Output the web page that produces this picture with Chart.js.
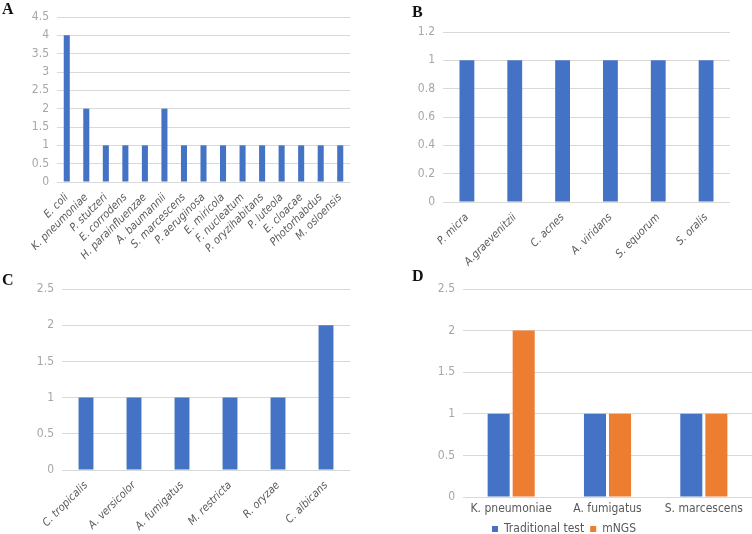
<!DOCTYPE html>
<html>
<head>
<meta charset="utf-8">
<script src="https://cdn.jsdelivr.net/npm/chart.js@4/dist/chart.umd.min.js"></script>
<style>
  html, body { margin: 0; padding: 0; background: #fff; }
  body { width: 752px; height: 534px; position: relative; overflow: hidden; }
  .panel { position: absolute; }
  .tag { position: absolute; font-family: 'Liberation Serif', serif; font-weight: bold; font-size: 16px; color: #111; }
</style>
</head>
<body>

<div class="panel" style="left:0;top:0;width:376px;height:270px;"><canvas id="chartA"></canvas></div>
<div class="panel" style="left:376px;top:0;width:376px;height:270px;"><canvas id="chartB"></canvas></div>
<div class="panel" style="left:0;top:270px;width:376px;height:264px;"><canvas id="chartC"></canvas></div>
<!-- panel D canvas runs past the right edge so the legend centres under the plot -->
<div class="panel" style="left:376px;top:270px;width:450px;height:264px;"><canvas id="chartD"></canvas></div>

<div class="tag" style="left:2px;top:0px;">A</div>
<div class="tag" style="left:412px;top:3px;">B</div>
<div class="tag" style="left:2px;top:271px;">C</div>
<div class="tag" style="left:412px;top:267px;">D</div>

<script>
// Panel A - bacteria
const labelsA = ['E. coli', 'K. pneumoniae', 'P. stutzeri', 'E. corrodens', 'H. parainfluenzae',
    'A. baumannii', 'S. marcescens', 'P. aeruginosa', 'E. miricola', 'F. nucleatum',
    'P. oryzihabitans', 'P. luteola', 'E. cloacae', 'Photorhabdus', 'M. osloensis'];
const valuesA = [4, 2, 1, 1, 1, 2, 1, 1, 1, 1, 1, 1, 1, 1, 1];

// Panel B
const labelsB = ['P. micra', 'A.graevenitzii', 'C. acnes', 'A. viridans', 'S. equorum', 'S. oralis'];
const valuesB = [1, 1, 1, 1, 1, 1];

// Panel C - fungi
const labelsC = ['C. tropicalis', 'A. versicolor', 'A. fumigatus', 'M. restricta', 'R. oryzae', 'C. albicans'];
const valuesC = [1, 1, 1, 1, 1, 2];

// Panel D - traditional vs mNGS
const labelsD = ['K. pneumoniae', 'A. fumigatus', 'S. marcescens'];
const traditionalD = [1, 1, 1];
const mngsD = [2, 1, 1];

const BLUE = '#4472C4';
const ORANGE = '#ED7D31';
const GRID = '#D9D9D9';
const FONT = "'Liberation Sans Narrow', 'DejaVu Sans Condensed', 'Liberation Sans', sans-serif";

Chart.defaults.animation = false;
Chart.defaults.responsive = true;
Chart.defaults.maintainAspectRatio = false;
Chart.defaults.font.family = FONT;

function makeChart(id, labels, datasets, cfg) {
    return new Chart(document.getElementById(id), {
        type: 'bar',
        data: { labels: labels, datasets: datasets },
        options: {
            layout: { padding: cfg.padding },
            plugins: {
                legend: cfg.legend || { display: false },
                tooltip: { enabled: false }
            },
            scales: {
                x: {
                    grid: { display: false, drawTicks: false },
                    border: { display: false },
                    ticks: {
                        color: '#595959',
                        font: { size: cfg.xSize, style: cfg.xStyle || 'normal' },
                        minRotation: cfg.rot,
                        maxRotation: cfg.rot,
                        autoSkip: false,
                        padding: cfg.xPad
                    },
                    afterFit: s => { s.height = cfg.xHeight; }
                },
                y: {
                    min: 0,
                    max: cfg.yMax,
                    grid: { color: GRID, drawTicks: false },
                    border: { display: false },
                    ticks: {
                        stepSize: cfg.step,
                        autoSkip: false,
                        maxTicksLimit: 20,
                        color: '#A6A6A6',
                        font: { size: 12, lineHeight: 1 },
                        padding: 8,
                        callback: v => String(Math.round(v * 10) / 10)
                    },
                    afterFit: s => { s.width = cfg.yWidth; }
                }
            }
        }
    });
}

makeChart('chartA', labelsA, [{
    data: valuesA, backgroundColor: BLUE, barPercentage: 0.5, categoryPercentage: 0.62
}], { padding: { left: 0, top: 17, right: 26, bottom: 0 }, yWidth: 57, xHeight: 88, xPad: 9,
      yMax: 4.5, step: 0.5, rot: 45, xSize: 11, xStyle: 'italic' });

makeChart('chartB', labelsB, [{
    data: valuesB, backgroundColor: BLUE, barPercentage: 0.5, categoryPercentage: 0.62
}], { padding: { left: 0, top: 32, right: 22, bottom: 0 }, yWidth: 67, xHeight: 68, xPad: 9,
      yMax: 1.2, step: 0.2, rot: 45, xSize: 11, xStyle: 'italic' });

makeChart('chartC', labelsC, [{
    data: valuesC, backgroundColor: BLUE, barPercentage: 0.5, categoryPercentage: 0.62
}], { padding: { left: 0, top: 19, right: 26, bottom: 0 }, yWidth: 62, xHeight: 64, xPad: 9,
      yMax: 2.5, step: 0.5, rot: 45, xSize: 11, xStyle: 'italic' });

makeChart('chartD', labelsD, [
    { label: 'Traditional test', data: traditionalD, backgroundColor: BLUE, barPercentage: 0.88, categoryPercentage: 0.52 },
    { label: 'mNGS', data: mngsD, backgroundColor: ORANGE, barPercentage: 0.88, categoryPercentage: 0.52 }
], { padding: { left: 0, top: 19, right: 74, bottom: 0 }, yWidth: 87, xHeight: 20, xPad: 5,
     yMax: 2.5, step: 0.5, rot: 0, xSize: 12,
     legend: {
         display: true,
         position: 'bottom',
         maxHeight: 17,
         labels: { color: '#595959', boxWidth: 6, boxHeight: 6, padding: 6, font: { size: 12 } }
     } });
</script>
</body>
</html>
